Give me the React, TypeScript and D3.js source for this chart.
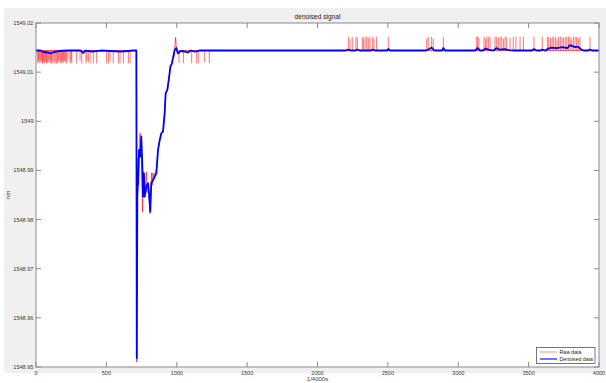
import React from 'react';
import * as d3 from 'd3';

const BASE = 1549.0144;

const xTicks = [0, 500, 1000, 1500, 2000, 2500, 3000, 3500, 4000];
const xTickLabels = ['0', '500', '1000', '1500', '2000', '2500', '3000', '3500', '4000'];
const yTicks = [1548.95, 1548.96, 1548.97, 1548.98, 1548.99, 1549.0, 1549.01, 1549.02];
const yTickLabels = ['1548.95', '1548.96', '1548.97', '1548.98', '1548.99', '1549', '1549.01', '1549.02'];

const titleText = 'denoised signal';
const xLabelText = '1/4000s';
const yLabelText = 'nm';
const legendLabels = ['Raw data', 'Denoised data'];

// Denoised data keypoints
const denoisedX = [
  0, 33, 52, 80, 104, 128, 163, 223, 317, 334, 353, 400, 460, 602, 696, 713,
  716, 720, 725, 732, 741, 748, 755, 760, 767, 772, 784, 796, 803, 812, 819, 831, 843, 855,
  867, 879, 891, 902, 914, 921, 933, 943, 955, 966, 973, 985, 997, 1009, 1021, 1044, 1080,
  1100, 1130, 1160, 2200, 2219, 2235, 2270, 2283, 2300, 2380, 2392, 2410, 2495, 2503, 2515,
  2770, 2787, 2811, 2830, 2885, 2894, 2905, 3120, 3136, 3155, 3175, 3195, 3215, 3250, 3273,
  3290, 3332, 3360, 3400, 3525, 3538, 3555, 3585, 3597, 3620, 3640, 3660, 3700, 3740, 3775,
  3794, 3830, 3850, 3870, 3890, 3925, 3936, 3950, 4000,
];
const denoisedY = [
  1549.0144, 1549.0144, 1549.0141, 1549.0140, 1549.0138, 1549.0141, 1549.0143, 1549.0144,
  1549.0144, 1549.0139, 1549.0144, 1549.0142, 1549.0144, 1549.0142, 1549.0144, 1549.0144,
  1548.9518, 1548.9850, 1548.9880, 1548.9942, 1548.9928, 1548.9969, 1548.9914, 1548.9847,
  1548.9894, 1548.9847, 1548.9867, 1548.9874, 1548.9853, 1548.9816, 1548.9874, 1548.9880,
  1548.9887, 1548.9894, 1548.9942, 1548.9962, 1548.9976, 1548.9979, 1549.0016, 1549.0057,
  1549.0064, 1549.0084, 1549.0111, 1549.0118, 1549.0128, 1549.0145, 1549.0149, 1549.0138,
  1549.0142, 1549.0143, 1549.0140, 1549.0144, 1549.0142, 1549.0144, 1549.0144, 1549.0146,
  1549.0144, 1549.0144, 1549.0146, 1549.0144, 1549.0144, 1549.0146, 1549.0144, 1549.0144,
  1549.0147, 1549.0144, 1549.0144, 1549.0146, 1549.0150, 1549.0144, 1549.0144, 1549.0149,
  1549.0144, 1549.0144, 1549.0149, 1549.0144, 1549.0144, 1549.0148, 1549.0146, 1549.0144,
  1549.0149, 1549.0146, 1549.0147, 1549.0145, 1549.0144, 1549.0144, 1549.0147, 1549.0144,
  1549.0144, 1549.0146, 1549.0144, 1549.0148, 1549.0150, 1549.0149, 1549.0151, 1549.0149,
  1549.0155, 1549.0151, 1549.0152, 1549.0147, 1549.0144, 1549.0144, 1549.0146, 1549.0144,
  1549.0144,
];

// Raw data in the dip (path)
const rawDipX = [
  0, 713, 716, 721, 726, 730, 735, 740, 744, 748, 752, 757, 760, 764, 768, 772, 778, 784,
  788, 796, 803, 810, 816, 822, 826, 832, 838, 846, 855, 867, 880, 892, 904, 914, 921, 934,
  944, 955, 966, 973, 980, 985, 992, 997, 1003, 1009, 1020, 4000,
];
const rawDipY = [
  1549.0144, 1549.0144, 1548.9510, 1548.9840, 1548.9925, 1548.9870, 1548.9955, 1548.9976,
  1548.9935, 1548.9960, 1548.9880, 1548.9815, 1548.9900, 1548.9845, 1548.9880, 1548.9845,
  1548.9870, 1548.9897, 1548.9855, 1548.9874, 1548.9850, 1548.9812, 1548.9860, 1548.9895,
  1548.9870, 1548.9895, 1548.9885, 1548.9895, 1548.9900, 1548.9942, 1548.9962, 1548.9976,
  1548.9980, 1549.0016, 1549.0055, 1549.0064, 1549.0084, 1549.0111, 1549.0118, 1549.0128,
  1549.0130, 1549.0145, 1549.0171, 1549.0150, 1549.0140, 1549.0138, 1549.0144, 1549.0144,
];

// Raw downward spikes (before and after the dip)
const rawDownSpikeX = [
  12, 17, 21, 27, 33, 40, 44, 47, 53, 59, 64, 69, 75, 80, 86, 92, 99, 104, 110, 115, 123,
  130, 139, 147, 152, 158, 164, 170, 176, 182, 188, 194, 200, 206, 212, 218, 227, 242, 248,
  254, 289, 313, 325, 355, 361, 372, 384, 407, 431, 502, 514, 526, 549, 585, 597, 621, 656,
  668, 1016, 1047, 1106, 1142, 1153, 1196, 1231,
];
const rawDownSpikeY = [
  1549.0119, 1549.0124, 1549.0118, 1549.0122, 1549.0120, 1549.0125, 1549.0118, 1549.0118,
  1549.0123, 1549.0118, 1549.0120, 1549.0122, 1549.0118, 1549.0118, 1549.0124, 1549.0119,
  1549.0126, 1549.0118, 1549.0121, 1549.0118, 1549.0124, 1549.0118, 1549.0122, 1549.0118,
  1549.0118, 1549.0121, 1549.0125, 1549.0118, 1549.0120, 1549.0118, 1549.0123, 1549.0118,
  1549.0122, 1549.0123, 1549.0119, 1549.0118, 1549.0127, 1549.0118, 1549.0122, 1549.0118,
  1549.0118, 1549.0124, 1549.0118, 1549.0118, 1549.0123, 1549.0120, 1549.0118, 1549.0118,
  1549.0118, 1549.0118, 1549.0118, 1549.0122, 1549.0118, 1549.0118, 1549.0118, 1549.0118,
  1549.0118, 1549.0118, 1549.0119, 1549.0118, 1549.0118, 1549.0118, 1549.0118, 1549.0120,
  1549.0118,
];

// Raw upward spikes (later part)
const rawUpSpikeX = [
  2219, 2231, 2247, 2273, 2283, 2318, 2326, 2337, 2349, 2361, 2373, 2392, 2401, 2420, 2503,
  2776, 2787, 2811, 2823, 2894, 3131, 3138, 3147, 3183, 3192, 3202, 3214, 3226, 3261, 3273,
  3285, 3297, 3309, 3321, 3332, 3344, 3368, 3391, 3410, 3439, 3463, 3538, 3597, 3633, 3643,
  3655, 3667, 3678, 3690, 3701, 3713, 3725, 3736, 3748, 3760, 3771, 3783, 3795, 3806, 3818,
  3830, 3841, 3853, 3865, 3936,
];
const rawUpSpikeY = [
  1549.0172, 1549.0168, 1549.0172, 1549.0172, 1549.0170, 1549.0172, 1549.0168, 1549.0172,
  1549.0172, 1549.0170, 1549.0172, 1549.0172, 1549.0168, 1549.0172, 1549.0172, 1549.0168,
  1549.0172, 1549.0172, 1549.0168, 1549.0172, 1549.0172, 1549.0172, 1549.0170, 1549.0172,
  1549.0168, 1549.0172, 1549.0172, 1549.0172, 1549.0172, 1549.0172, 1549.0170, 1549.0172,
  1549.0172, 1549.0168, 1549.0172, 1549.0172, 1549.0170, 1549.0172, 1549.0172, 1549.0172,
  1549.0172, 1549.0172, 1549.0172, 1549.0172, 1549.0172, 1549.0170, 1549.0172, 1549.0172,
  1549.0172, 1549.0168, 1549.0172, 1549.0172, 1549.0172, 1549.0170, 1549.0172, 1549.0172,
  1549.0172, 1549.0172, 1549.0168, 1549.0172, 1549.0172, 1549.0172, 1549.0170, 1549.0172,
  1549.0172,
];

const W = 606;
const H = 383;
const M = { left: 36, right: 599, top: 23, bottom: 367 };
const FONT = 'Liberation Sans, Arial, Helvetica, sans-serif';

export default function App() {
  const x = d3.scaleLinear().domain([0, 4000]).range([M.left, M.right]);
  const y = d3.scaleLinear().domain([1548.95, 1549.02]).range([M.bottom, M.top]);

  const denoised = denoisedX.map((d, i) => [d, denoisedY[i]] as [number, number]);
  const rawDip = rawDipX.map((d, i) => [d, rawDipY[i]] as [number, number]);
  const line = d3
    .line<[number, number]>()
    .x((d) => x(d[0]))
    .y((d) => y(d[1]));

  const axisColor = '#8a8a8a';
  const textColor = '#3a3a3a';
  const tickLen = 5;
  const spikeStroke = 'rgba(255,0,0,0.55)';

  return (
    <svg
      width={W}
      height={H}
      style={{ position: 'absolute', left: 0, top: 0, display: 'block' }}
    >
      <rect x={0} y={0} width={W} height={H} fill="#ffffff" />
      <rect x={4} y={8} width={W - 4} height={365} fill="#f0f0f0" />
      <rect x={M.left} y={M.top} width={M.right - M.left} height={M.bottom - M.top} fill="#ffffff" />

      <defs>
        <clipPath id="plotclip">
          <rect x={M.left} y={M.top} width={M.right - M.left} height={M.bottom - M.top} />
        </clipPath>
      </defs>

      <g clipPath="url(#plotclip)">
        <path d={line(rawDip) || ''} fill="none" stroke="rgba(255,0,0,0.6)" strokeWidth={1} />
        {rawDownSpikeX.map((d, i) => (
          <line
            key={'dn' + i}
            x1={x(d)}
            x2={x(d)}
            y1={y(BASE)}
            y2={y(rawDownSpikeY[i])}
            stroke={spikeStroke}
            strokeWidth={1}
          />
        ))}
        {rawUpSpikeX.map((d, i) => (
          <line
            key={'up' + i}
            x1={x(d)}
            x2={x(d)}
            y1={y(BASE)}
            y2={y(rawUpSpikeY[i])}
            stroke={spikeStroke}
            strokeWidth={1}
          />
        ))}
        <path d={line(denoised) || ''} fill="none" stroke="#0000ff" strokeWidth={1.8} strokeLinejoin="round" />
      </g>

      {/* axes box */}
      <rect
        x={M.left}
        y={M.top}
        width={M.right - M.left}
        height={M.bottom - M.top}
        fill="none"
        stroke={axisColor}
        strokeWidth={1}
      />

      {xTicks.map((t, i) => (
        <g key={'xt' + i}>
          <line x1={x(t)} x2={x(t)} y1={M.bottom} y2={M.bottom - tickLen} stroke={axisColor} />
          <line x1={x(t)} x2={x(t)} y1={M.top} y2={M.top + tickLen} stroke={axisColor} />
          <text
            x={x(t)}
            y={M.bottom + 8}
            fontSize={5.6}
            fontFamily={FONT}
            fill={textColor}
            textAnchor="middle"
          >
            {xTickLabels[i]}
          </text>
        </g>
      ))}
      {yTicks.map((t, i) => (
        <g key={'yt' + i}>
          <line x1={M.left} x2={M.left + tickLen} y1={y(t)} y2={y(t)} stroke={axisColor} />
          <line x1={M.right} x2={M.right - tickLen} y1={y(t)} y2={y(t)} stroke={axisColor} />
          <text
            x={M.left - 2.5}
            y={y(t) + 2}
            fontSize={5.6}
            fontFamily={FONT}
            fill={textColor}
            textAnchor="end"
          >
            {yTickLabels[i]}
          </text>
        </g>
      ))}

      <text
        x={(M.left + M.right) / 2}
        y={18.5}
        fontSize={6.6}
        fontFamily={FONT}
        fill="#222"
        textAnchor="middle"
      >
        {titleText}
      </text>
      <text
        x={(M.left + M.right) / 2}
        y={381}
        fontSize={6}
        fontFamily={FONT}
        fill={textColor}
        textAnchor="middle"
      >
        {xLabelText}
      </text>
      <text
        transform={`translate(10,${(M.top + M.bottom) / 2}) rotate(-90)`}
        fontSize={6}
        fontFamily={FONT}
        fill={textColor}
        textAnchor="middle"
      >
        {yLabelText}
      </text>

      {/* legend */}
      <g>
        <rect x={536.5} y={347.5} width={58.5} height={16} fill="#ffffff" stroke="#555" strokeWidth={0.8} />
        <line x1={540} x2={557} y1={352} y2={352} stroke="rgba(255,0,0,0.3)" strokeWidth={1.5} />
        <line x1={540} x2={557} y1={359} y2={359} stroke="rgba(0,0,255,0.7)" strokeWidth={1.6} />
        <text x={559.5} y={353.8} fontSize={5.2} fontFamily={FONT} fill="#222">
          {legendLabels[0]}
        </text>
        <text x={559.5} y={360.8} fontSize={5.2} fontFamily={FONT} fill="#222">
          {legendLabels[1]}
        </text>
      </g>
    </svg>
  );
}
